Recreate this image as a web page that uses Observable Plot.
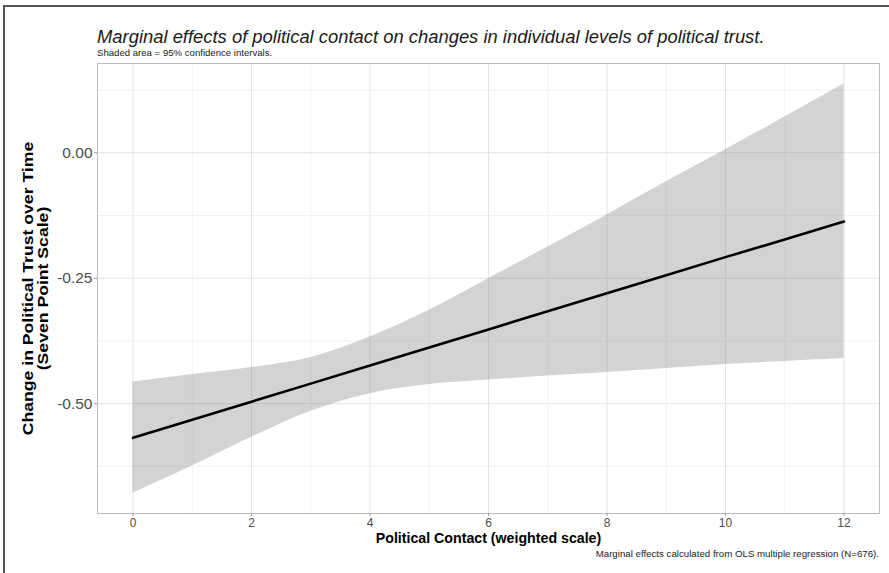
<!DOCTYPE html>
<html>
<head>
<meta charset="utf-8">
<script src="https://cdn.jsdelivr.net/npm/d3@7"></script>
<script src="https://cdn.jsdelivr.net/npm/@observablehq/plot@0.6"></script>
<style>
  html, body { margin: 0; padding: 0; background: #fff; }
  #page {
    position: relative; width: 889px; height: 573px; overflow: hidden;
    font-family: "Liberation Sans", Arial, Helvetica, sans-serif; color: #1a1a1a;
  }
  #frame {
    position: absolute; left: 3px; top: 5px; right: -10px; bottom: -10px;
    border-top: 2px solid #555; border-left: 2px solid #555; pointer-events: none;
  }
  #head { position: absolute; left: 97px; top: 0; height: 58px; width: 780px; }
  #title { position: absolute; top: 26px; left: 0; font-size: 18.4px; font-style: italic; white-space: nowrap; line-height: 22px; }
  #subtitle { position: absolute; top: 47px; left: 0; font-size: 9.6px; white-space: nowrap; line-height: 12px; }
  #chart { position: absolute; left: 0; top: 58px; }
  #caption { position: absolute; top: 548px; right: 10px; font-size: 9.7px; white-space: nowrap; line-height: 11px; }
</style>
</head>
<body>
<div id="page">
  <div id="frame"></div>
  <div id="head">
    <div id="title">Marginal effects of political contact on changes in individual levels of political trust.</div>
    <div id="subtitle">Shaded area = 95% confidence intervals.</div>
  </div>
  <div id="chart"></div>
  <div id="caption">Marginal effects calculated from OLS multiple regression (N=676).</div>
</div>
<script>
// Political contact score (weighted scale)
const contact = [0, 1, 2, 3, 4, 5, 6, 7, 8, 9, 10, 11, 12];
// Predicted change in political trust
const fitted = [-0.568, -0.532, -0.496, -0.460, -0.424, -0.388, -0.352, -0.316, -0.280, -0.244, -0.208, -0.173, -0.137];
// 95% confidence interval bounds
const upper = [-0.457, -0.442, -0.428, -0.408, -0.367, -0.314, -0.251, -0.188, -0.124, -0.058, 0.006, 0.071, 0.137];
const lower = [-0.678, -0.624, -0.567, -0.515, -0.480, -0.462, -0.453, -0.445, -0.438, -0.430, -0.422, -0.416, -0.410];

// Axis breaks
const xTicks = [0, 2, 4, 6, 8, 10, 12];
const xMinor = [1, 3, 5, 7, 9, 11];
const yTicks = [0, -0.25, -0.5];
const yMinor = [0.125, -0.125, -0.375, -0.625];

const xTitle = "Political Contact (weighted scale)";
const yTitle = "Change in Political Trust over Time\n(Seven Point Scale)";

const rows = contact.map((x, i) => ({x, fit: fitted[i], lo: lower[i], hi: upper[i]}));

// Padded limits, 5% beyond the data on each side
const xLo = d3.min(contact), xHi = d3.max(contact);
const xPad = (xHi - xLo) * 0.05;
const yLo = d3.min(lower), yHi = d3.max(upper);
const yPad = (yHi - yLo) * 0.05;

const font = '"Liberation Sans", Arial, Helvetica, sans-serif';

const chart = Plot.plot({
  width: 889,
  height: 487,
  marginLeft: 97,
  marginRight: 10,
  marginTop: 5,
  marginBottom: 32,
  style: {fontFamily: font, background: "transparent", overflow: "visible"},
  x: {domain: [xLo - xPad, xHi + xPad]},
  y: {domain: [yLo - yPad, yHi + yPad]},
  marks: [
    Plot.gridX(xMinor, {stroke: "#ececec", strokeOpacity: 1, strokeWidth: 0.7}),
    Plot.gridY(yMinor, {stroke: "#ececec", strokeOpacity: 1, strokeWidth: 0.7}),
    Plot.gridX(xTicks, {stroke: "#e3e3e3", strokeOpacity: 1, strokeWidth: 1}),
    Plot.gridY(yTicks, {stroke: "#e3e3e3", strokeOpacity: 1, strokeWidth: 1}),
    Plot.areaY(rows, {x: "x", y1: "lo", y2: "hi", fill: "#8c8c8c", fillOpacity: 0.38, curve: "catmull-rom"}),
    Plot.lineY(rows, {x: "x", y: "fit", stroke: "#000", strokeWidth: 2.6}),
    Plot.frame({stroke: "#bdbdbd", strokeWidth: 1}),
    Plot.axisX(xTicks, {
      tickSize: 3, tickPadding: 2, stroke: "#9a9a9a", fill: "#4d4d4d",
      fontSize: 12, label: null, tickFormat: d => String(d)
    }),
    Plot.axisY(yTicks, {
      tickSize: 3, tickPadding: 2, stroke: "#9a9a9a", fill: "#4d4d4d",
      fontSize: 15.5, label: null, tickFormat: d => d.toFixed(2)
    }),
    Plot.text([xTitle], {
      frameAnchor: "bottom", dy: 25, lineAnchor: "middle",
      fontSize: 14.2, fontWeight: "bold", fill: "#000"
    }),
    Plot.text([yTitle], {
      frameAnchor: "left", dx: -61.5, rotate: -90, lineAnchor: "middle", textAnchor: "middle",
      lineHeight: 1.07, fontSize: 14, fontWeight: "bold", fill: "#000"
    })
  ]
});

// The y title runs taller than its line height suggests: stretch it along its baseline
d3.select(chart).selectAll("text")
  .filter(function() { return this.textContent.startsWith("Change in Political"); })
  .attr("transform", function() { return this.getAttribute("transform") + " scale(1.26,1)"; });

document.getElementById("chart").appendChild(chart);
</script>
</body>
</html>
